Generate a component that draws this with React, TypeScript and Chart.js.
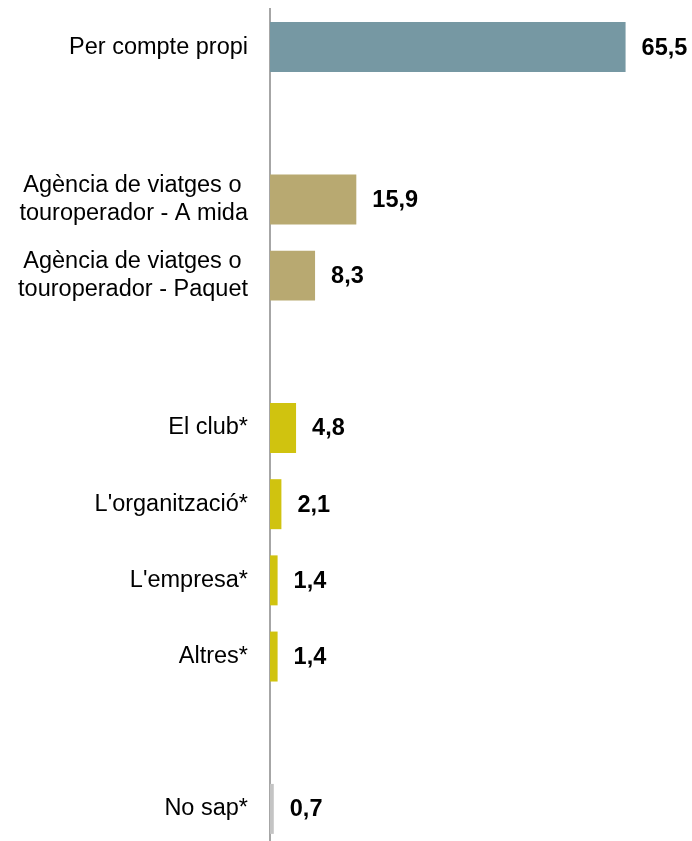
import React, { useEffect, useRef } from "react";
import { Chart, registerables } from "chart.js";

Chart.register(...registerables);

const categories: (string | string[])[] = [
  "Per compte propi",
  "",
  ["Agència de viatges o ", "touroperador - A mida"],
  ["Agència de viatges o ", "touroperador - Paquet"],
  "",
  "El club*",
  "L'organització*",
  "L'empresa*",
  "Altres*",
  "",
  "No sap*",
];

const values: (number | null)[] = [65.5, null, 15.9, 8.3, null, 4.8, 2.1, 1.4, 1.4, null, 0.7];

const barColors: string[] = [
  "#7698A3",
  "#ffffff",
  "#B8A971",
  "#B8A971",
  "#ffffff",
  "#D0C30F",
  "#D0C30F",
  "#D0C30F",
  "#D0C30F",
  "#ffffff",
  "#C4C4C4",
];

const FONT = "'Liberation Sans', Arial, sans-serif";

const valueLabels = {
  id: "valueLabels",
  afterDatasetsDraw(chart: any) {
    const ctx = chart.ctx;
    const meta = chart.getDatasetMeta(0);
    ctx.save();
    ctx.font = `bold 23.5px ${FONT}`;
    ctx.fillStyle = "#000000";
    ctx.textAlign = "left";
    ctx.textBaseline = "middle";
    meta.data.forEach((bar: any, i: number) => {
      const v = values[i];
      if (v === null || v === undefined) return;
      const txt = v.toFixed(1).replace(".", ",");
      ctx.fillText(txt, bar.x + 16, bar.y + 1);
    });
    ctx.restore();
  },
};

export default function App() {
  const ref = useRef<HTMLCanvasElement>(null);
  useEffect(() => {
    if (!ref.current) return;
    const chart = new Chart(ref.current, {
      type: "bar",
      data: {
        labels: categories,
        datasets: [
          {
            data: values,
            backgroundColor: barColors,
            borderWidth: 0,
            barPercentage: 0.656,
            categoryPercentage: 1,
          },
        ],
      },
      options: {
        indexAxis: "y",
        responsive: false,
        animation: false,
        layout: { padding: { top: 9, bottom: 3, left: 0, right: 42 } },
        plugins: {
          legend: { display: false },
          tooltip: { enabled: false },
        },
        scales: {
          x: {
            display: false,
            min: 0,
            max: 70,
          },
          y: {
            grid: { display: false, drawTicks: false },
            border: { display: true, color: "#A6A6A6", width: 2 },
            ticks: {
              color: "#000000",
              padding: 22,
              font: { family: FONT, size: 23.5, lineHeight: 1.17 },
              autoSkip: false,
            },
            afterFit(scale: any) {
              scale.width = 270;
              scale.paddingTop = 0;
              scale.paddingBottom = 0;
            },
          },
        },
      },
      plugins: [valueLabels],
    });
    return () => chart.destroy();
  }, []);
  return (
    <div
      style={{
        position: "absolute",
        left: 0,
        top: 0,
        width: 692,
        height: 841,
        overflow: "hidden",
        background: "#ffffff",
      }}
    >
      <canvas ref={ref} width={692} height={850} style={{ display: "block" }} />
    </div>
  );
}
